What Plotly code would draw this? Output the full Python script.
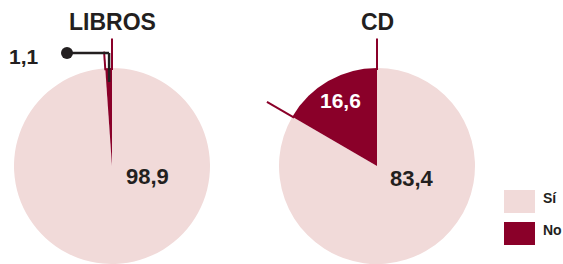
import math
import plotly.graph_objects as go

# ---- data ----
charts = ["LIBROS", "CD"]
categories = ["Sí", "No"]
libros_values = [98.9, 1.1]
cd_values = [83.4, 16.6]
colors = ["#f1dad9", "#8a0029"]

W, H = 563, 264
R = 98
centers = [(112, 166), (377, 166)]
DARK = "#231f20"
FONT = "Liberation Sans, Arial, sans-serif"


def px(x):
    return x / W


def py(y):
    return 1 - y / H


fig = go.Figure()
for (cx, cy), vals, name in zip(centers, [libros_values, cd_values], charts):
    fig.add_trace(go.Pie(
        labels=categories, values=vals, sort=False, direction="clockwise",
        rotation=0, textinfo="none", hoverinfo="label+value",
        marker=dict(colors=colors, line=dict(width=0)),
        domain=dict(x=[px(cx - R), px(cx + R)], y=[max(0, py(cy + R)), min(1, py(cy - R))]),
        showlegend=False, name=name,
    ))

shapes = []
annotations = []


def ray(cx, cy, ang_deg, r0, r1):
    a = math.radians(ang_deg)
    x0, y0 = cx - r0 * math.sin(a), cy - r0 * math.cos(a)
    x1, y1 = cx - r1 * math.sin(a), cy - r1 * math.cos(a)
    return dict(type="line", xref="paper", yref="paper",
                x0=px(x0), y0=py(y0), x1=px(x1), y1=py(y1),
                line=dict(color=colors[1], width=2))


def text(t, x, y, size, color=DARK, xanchor="center"):
    annotations.append(dict(text=t, x=px(x), y=py(y), xref="paper", yref="paper",
                            showarrow=False, xanchor=xanchor, yanchor="middle",
                            font=dict(family=FONT, size=size, color=color)))


# extension lines of the "No" wedges (angles from data)
for (cx, cy), vals, f2 in zip(centers, [libros_values, cd_values], [1.17, 1.3]):
    ang = vals[1] / sum(vals) * 360
    shapes.append(ray(cx, cy, 0, R - 2, R * 1.3))
    shapes.append(ray(cx, cy, ang, R - 2, R * f2))

# titles
for (cx, cy), t in zip(centers, charts):
    text("<b>%s</b>" % t, cx, 22, 23)


def fmt(v):
    return ("%.1f" % v).replace(".", ",")


# value labels
text("<b>%s</b>" % fmt(libros_values[0]), 147, 176, 22)
text("<b>%s</b>" % fmt(cd_values[0]), 412, 178, 22)
text("<b>%s</b>" % fmt(cd_values[1]), 340, 100, 21, color="white")

# callout for LIBROS "No"
cx, cy = centers[0]
mid = libros_values[1] / sum(libros_values) * 360 / 2
yl = 82
xl = cx - (cy - yl) * math.tan(math.radians(mid))
shapes.append(dict(type="line", xref="paper", yref="paper", x0=px(67), y0=py(53),
                   x1=px(xl), y1=py(53), line=dict(color=DARK, width=2.5)))
shapes.append(dict(type="line", xref="paper", yref="paper", x0=px(xl), y0=py(53),
                   x1=px(xl), y1=py(yl), line=dict(color=DARK, width=2.5)))
shapes.append(dict(type="circle", xref="paper", yref="paper", x0=px(61), y0=py(47),
                   x1=px(73), y1=py(59), fillcolor=DARK, line=dict(width=0)))
text("<b>%s</b>" % fmt(libros_values[1]), 24, 56, 21)

# legend
for i, (lab, col) in enumerate(zip(categories, colors)):
    y0 = 190 + i * 32
    shapes.append(dict(type="rect", xref="paper", yref="paper", x0=px(504), x1=px(535),
                       y0=py(y0), y1=py(y0 + 23), fillcolor=col, line=dict(width=0)))
    text("<b>%s</b>" % lab, 541, y0 + 8, 14, xanchor="left")

fig.update_layout(width=W, height=H, margin=dict(l=0, r=0, t=0, b=0),
                  paper_bgcolor="white", plot_bgcolor="white",
                  shapes=shapes, annotations=annotations, showlegend=False)
fig.write_html("out.html", config={"displayModeBar": False},
               post_script="document.body.style.margin='0';document.body.style.overflow='hidden';")
